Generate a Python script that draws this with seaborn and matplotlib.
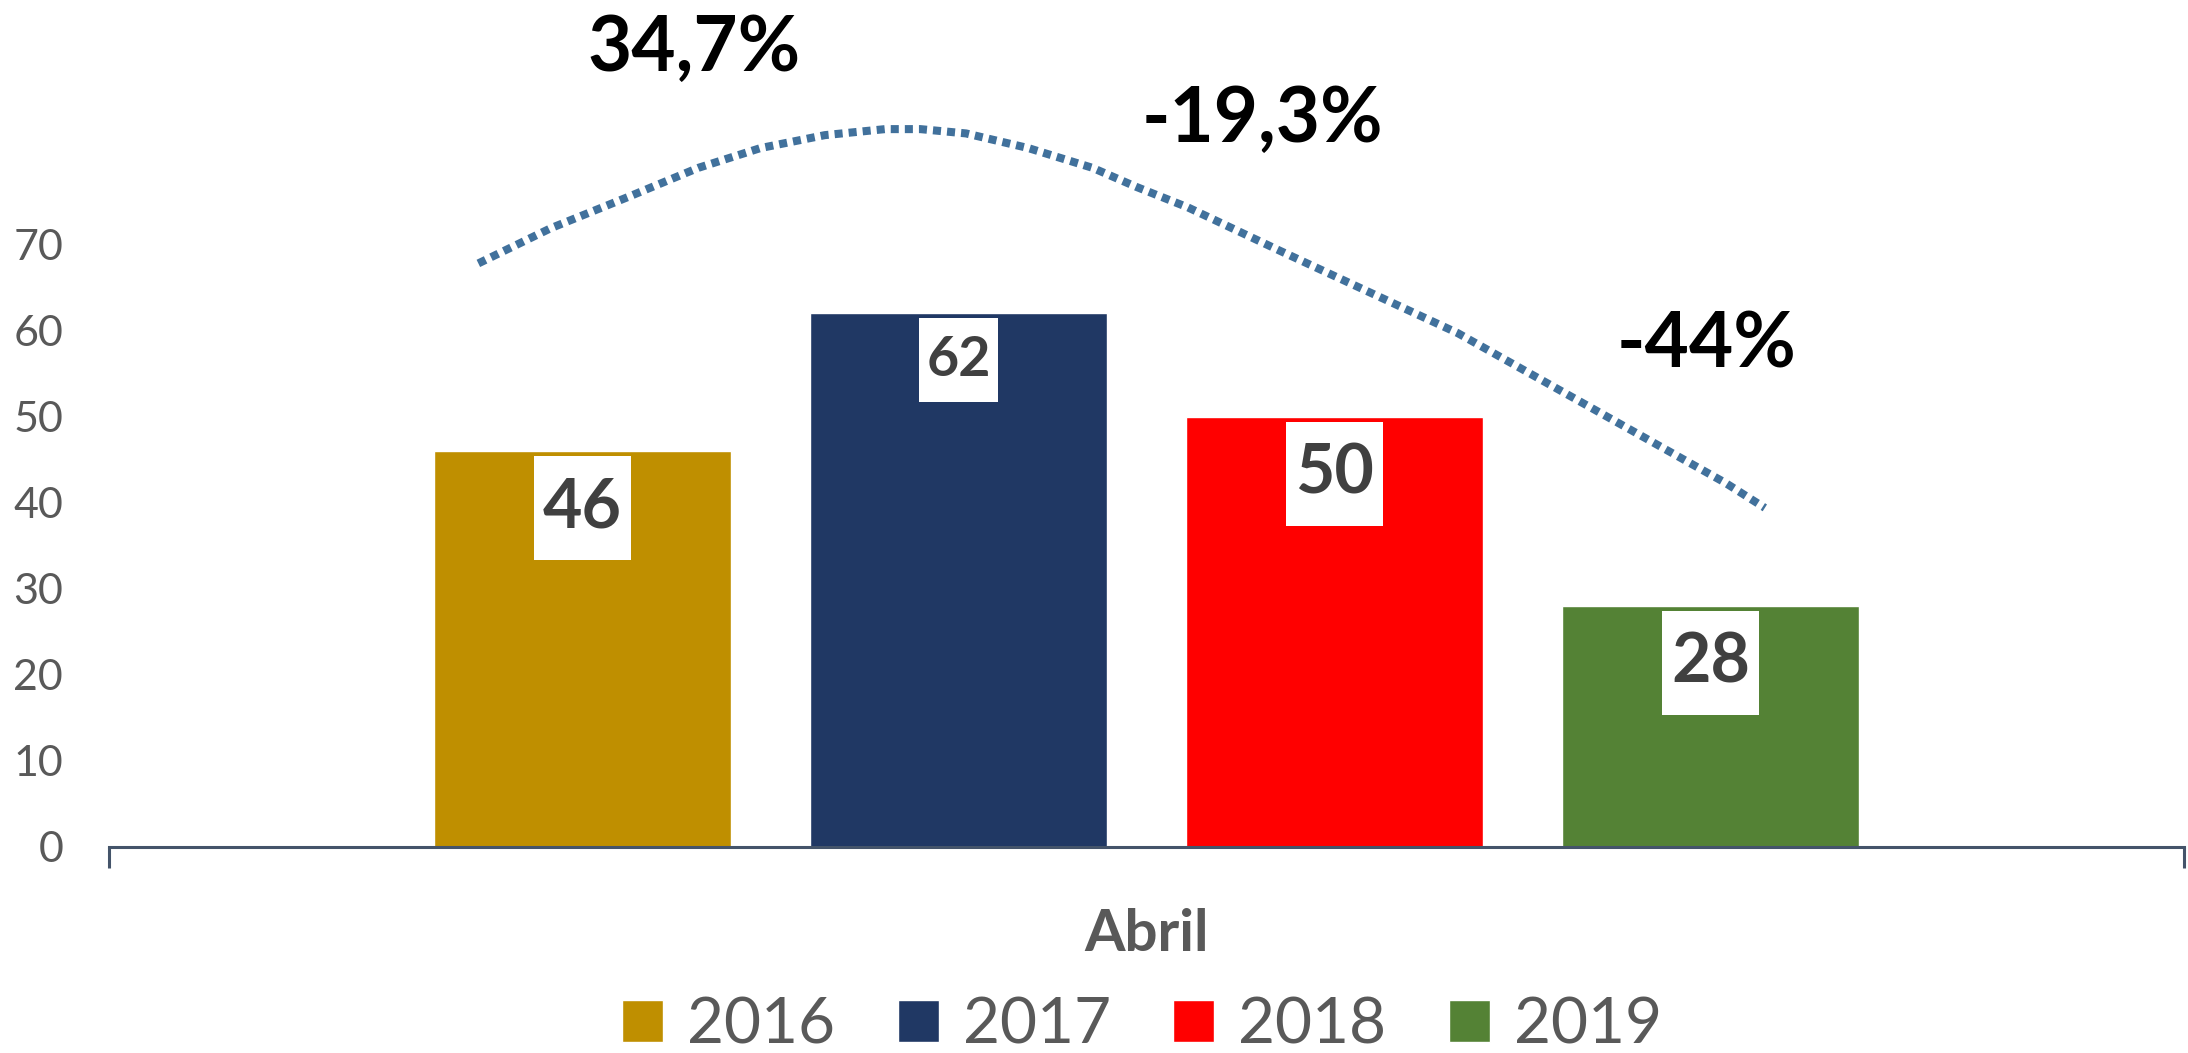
import matplotlib
matplotlib.use("Agg")
import matplotlib.pyplot as plt
from matplotlib.path import Path
import seaborn as sns
import pandas as pd
import numpy as np

# ---- data ----
month = ["Abril"]
years = ["2016", "2017", "2018", "2019"]
values = [46, 62, 50, 28]
bar_colors = ["#BF8F00", "#203864", "#FF0000", "#548235"]
pct_labels = ["34,7%", "-19,3%", "-44%"]
# decorative dotted arc (x in category units, y in value units)
curve_x = [-0.322, -0.287, -0.250, -0.216, -0.186, -0.155, -0.126, -0.109, -0.087,
           -0.057, -0.026, -0.005, 0.020, 0.064, 0.107, 0.150, 0.193, 0.236, 0.279, 0.298]
curve_y = [67.8, 71.9, 75.5, 78.9, 81.2, 82.7, 83.4, 83.4, 82.9,
           81.2, 78.9, 76.7, 74.3, 69.3, 64.5, 59.7, 53.9, 48.1, 42.3, 39.4]
yticks = [0, 10, 20, 30, 40, 50, 60, 70]

df = pd.DataFrame({"mes": month * len(years), "año": years, "valor": values})

sns.set_theme(style="white")
plt.rcParams["font.family"] = ["Lato", "DejaVu Sans"]

W, H, DPI = 2188, 1053, 100
fig = plt.figure(figsize=(W / DPI, H / DPI), dpi=DPI)
fig.patch.set_facecolor("white")
ax = fig.add_axes([109 / W, 206 / H, (2184 - 109) / W, 847 / H])
ax.set_facecolor("white")

sns.barplot(data=df, x="mes", y="valor", hue="año", hue_order=years,
            palette=bar_colors, width=0.725, gap=0.21, saturation=1,
            ax=ax)

axis_col = "#44546A"
ax.set_xlim(-0.5, 0.5)
ax.set_ylim(0, 98.4)
ax.set_yticks(yticks)
ax.set_yticklabels([str(v) for v in yticks])
ax.tick_params(axis="y", length=0, pad=33, labelsize=31, labelcolor="#595959")
ax.set_xticks([0])
ax.set_xticklabels(month)
ax.set_xticks([-0.5, 0.5], minor=True)
ax.tick_params(axis="x", which="major", length=0, pad=44, labelsize=42,
               labelcolor="#595959")
ax.tick_params(axis="x", which="minor", length=15, width=2.2, color=axis_col,
               direction="out", bottom=True)
for t in ax.get_xticklabels():
    t.set_fontweight("bold")
ax.set_xlabel("")
ax.set_ylabel("")
for s in ["top", "right", "left"]:
    ax.spines[s].set_visible(False)
ax.spines["bottom"].set_color(axis_col)
ax.spines["bottom"].set_linewidth(2.2)
ax.grid(False)


def tall_box(x0, y0, width, height, mutation_size):
    """Rectangular label box with more vertical than horizontal padding."""
    px = 0.13 * mutation_size
    py = 0.30 * mutation_size
    x0, y0 = x0 - px, y0 - py
    x1, y1 = x0 + width + 2 * px, y0 + height + 2 * py
    return Path([(x0, y0), (x1, y0), (x1, y1), (x0, y1), (x0, y0)],
                [Path.MOVETO, Path.LINETO, Path.LINETO, Path.LINETO, Path.CLOSEPOLY])


# bar value labels
label_sizes = [49, 40, 49, 49]
for cont, fs in zip(ax.containers, label_sizes):
    for bar in cont:
        h = bar.get_height()
        xc = bar.get_x() + bar.get_width() / 2
        ax.annotate(f"{h:.0f}", xy=(xc, h), xytext=(0, -fs * 0.84),
                    textcoords="offset points", ha="center", va="center",
                    fontsize=fs, fontweight="bold", color="#404040",
                    bbox=dict(boxstyle=tall_box, fc="white", ec="none"))

# dotted arc
sns.lineplot(x=curve_x, y=curve_y, sort=False, ax=ax, color="#41719C",
             linewidth=5.8, linestyle=(0, (1, 0.75)), dash_capstyle="butt")
ax.lines[-1].set_clip_on(False)

# percentage annotations
pct_pos = [(-0.218, 90.1), (0.056, 81.9), (0.270, 55.7)]
for txt, (px, py) in zip(pct_labels, pct_pos):
    ax.text(px, py, txt, ha="center", va="baseline", fontsize=55,
            fontweight="bold", color="black")

# legend
leg = ax.get_legend()
handles = leg.legend_handles
labels = [t.get_text() for t in leg.texts]
leg.remove()
fig.legend(handles, labels, loc="center", bbox_to_anchor=(0.522, 0.026),
           ncol=4, frameon=False, fontsize=46, labelcolor="#595959",
           handlelength=0.64, handleheight=0.64, handletextpad=0.375,
           columnspacing=0.98, borderpad=0, borderaxespad=0)

fig.savefig("out.png", dpi=DPI, facecolor="white")
